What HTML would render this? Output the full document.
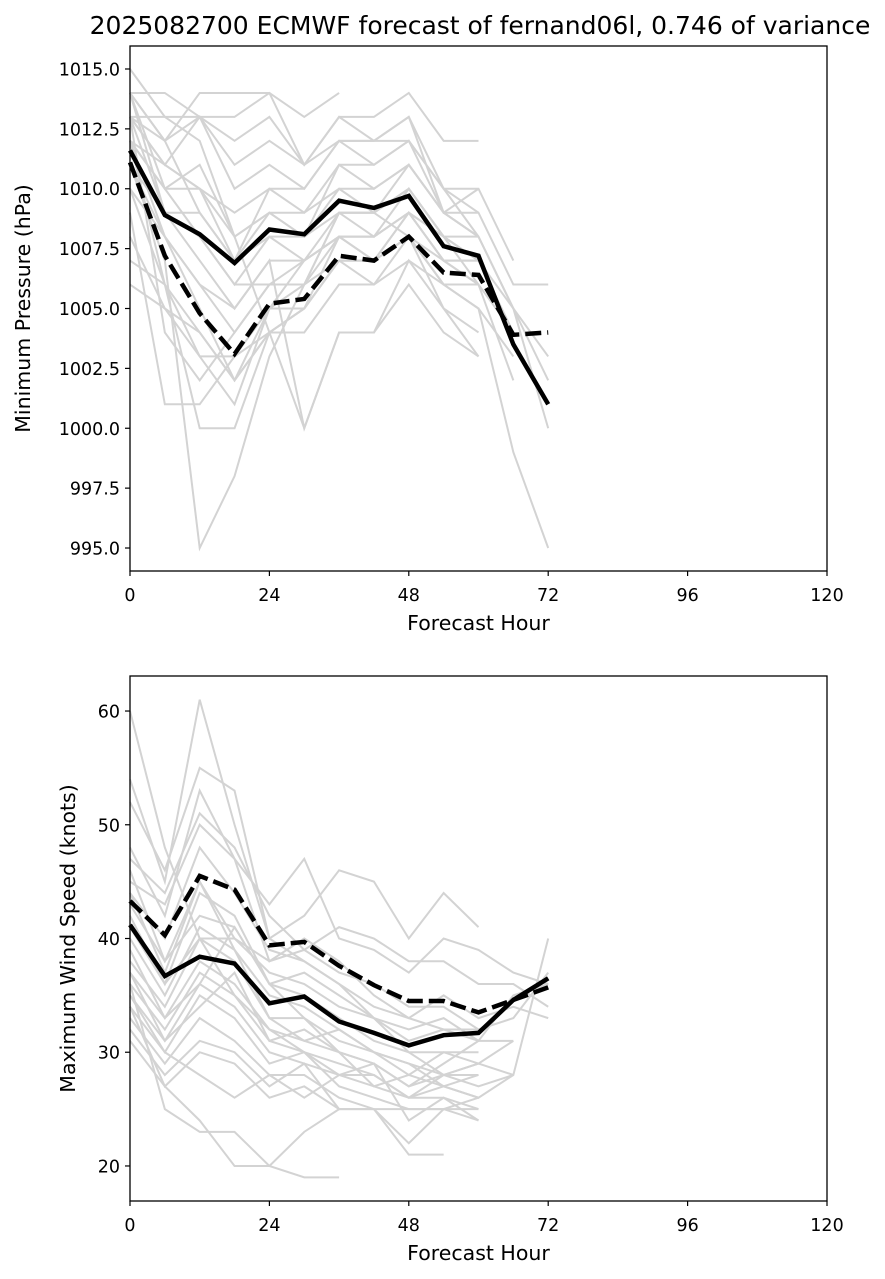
<!DOCTYPE html>
<html><head><meta charset="utf-8"><style>
body{margin:0;background:#fff}
svg{display:block;font-family:"DejaVu Sans","Liberation Sans",sans-serif}
</style></head><body>
<svg id="c" width="885" height="1279" viewBox="0 0 885 1279"></svg>
<script>
const hours=[0,6,12,18,24,30,36,42,48,54,60,66,72];
const xTicks=[0,24,48,72,96,120];
const pTicks=[995.0,997.5,1000.0,1002.5,1005.0,1007.5,1010.0,1012.5,1015.0];
const wTicks=[20,30,40,50,60];
const pMean=[1011.6,1008.9,1008.1,1006.9,1008.3,1008.1,1009.5,1009.2,1009.7,1007.6,1007.2,1003.5,1001.0];
const pMedian=[1011.1,1007.2,1004.8,1003.1,1005.2,1005.4,1007.2,1007.0,1008.0,1006.5,1006.4,1003.9,1004.0];
const wMean=[41.2,36.7,38.4,37.8,34.3,34.9,32.7,31.7,30.6,31.5,31.7,34.6,36.5];
const wMedian=[43.3,40.3,45.5,44.3,39.4,39.7,37.6,35.9,34.5,34.5,33.5,34.6,35.7];
const pMembers=[
[1015,1013,1012,1008,1004,1000,1004,1004,1006,1004,1003],
[1014,1014,1013,1013,1014,1013,1014],
[1014,1012,1014,1014,1014,1011,1013,1013,1014,1012,1012],
[1013,1013,1013,1012,1013,1011,1012,1012,1013,1009,1008,1005,1000],
[1013,1012,1013,1011,1012,1011,1013,1012,1012,1010,1010,1007],
[1012,1011,1010,1009,1010,1009,1010,1009,1011,1009,1009,1006,1006],
[1012,1010,1011,1008,1009,1008,1009,1008,1010,1008,1007,1005,1003],
[1011,1009,1009,1007,1008,1007,1008,1008,1009,1007,1007,1004],
[1013,1009,1008,1006,1008,1008,1010,1010,1011,1009,1008,1005,1002],
[1012,1008,1005,1002,1004,1005,1007,1007,1008,1006,1005,999,995],
[1011,1007,995,998,1003,1006,1007,1006,1007,1006,1005,1003],
[1010,1006,1003,1001,1005,1005,1008,1008,1009,1008,1006,1002],
[1012,1006,1000,1000,1004,1004,1006,1006,1008,1005,1004],
[1013,1004,1002,1004,1006,1006,1008,1007,1009,1007,1006],
[1011,1008,1006,1004,1006,1006,1009,1009,1010,1008,1007],
[1014,1009,1007,1005,1007,1000,1004,1004,1007,1005,1003],
[1009,1001,1001,1003,1004,1005,1007,1007,1008,1006,1006],
[1008,1005,1003,1003,1005,1006,1009,1009,1008,1007,1007],
[1007,1006,1004,1002,1005,1007,1008,1008,1009,1008,1008],
[1013,1011,1010,1007,1009,1009,1011,1011,1012,1009,1010],
[1014,1012,1009,1007,1010,1010,1012,1012,1013,1010,1009],
[1010,1008,1006,1005,1007,1007,1009,1009,1010,1008,1007],
[1006,1005,1004,1002,1004,1005,1007,1007,1008,1006,1006],
[1012,1010,1008,1006,1006,1007,1008,1007,1009,1007,1006,1004],
[1013,1011,1013,1010,1011,1010,1012,1011,1012,1010,1008],
[1014,1010,1010,1008,1009,1008,1011,1010,1011,1009,1008],
];
const wMembers=[
[60,48,40,35,32,30,28,28,26,26,25],
[54,45,61,50,40,38,36,33,30,28,27,28,40],
[52,46,55,53,40,42,46,45,40,44,41],
[48,42,53,47,43,47,40,39,37,40,39,37,36],
[47,44,51,48,42,39,41,40,38,38,36,36,34],
[45,43,50,47,38,40,38,35,33,35,33,34,33],
[44,40,48,44,39,38,36,34,33,32,32],
[43,38,45,40,37,36,34,33,31,32,31,35,36],
[42,36,44,42,36,35,33,31,30,30,29,28],
[40,35,41,39,35,34,32,30,29,28,28],
[38,34,40,38,33,33,31,30,28,30,30],
[37,33,38,36,32,31,30,29,27,29,31],
[36,32,37,35,31,30,29,28,26,28,29],
[35,31,36,34,30,29,28,27,26,27,28],
[34,30,35,33,29,30,27,26,25,25,26],
[33,29,33,31,28,28,26,25,22,25,24],
[32,28,31,30,27,29,25,25,21,21],
[34,27,30,29,26,27,25,25,25,25,25],
[36,25,23,23,20,19,19],
[31,27,24,20,20,23,25],
[35,30,28,26,28,26,28,29,24,26,24],
[46,38,42,41,36,37,35,33,32,33,31,31],
[41,36,40,40,38,39,37,36,34,34,32,33,37],
[39,33,36,41,36,33,30,29,27,28,29,31],
[44,37,45,39,33,31,32,30,29,27,26,28],
[37,31,34,37,31,32,30,27,28,27,26],
];
const svg=document.getElementById('c');
const NS='http://www.w3.org/2000/svg';
function mk(t,a){const e=document.createElementNS(NS,t);for(const k in a)e.setAttribute(k,a[k]);svg.appendChild(e);return e;}
const X0=130,X1=827;
const xs=h=>X0+(h/120)*(X1-X0);
function panel(top,bot,ymin,ymax,ticks,fmt,ylabel,members,mean,median,pfx){
  const ys=v=>bot-(v-ymin)/(ymax-ymin)*(bot-top);
  members.forEach((m,i)=>{
    const p=mk('polyline',{points:m.map((v,j)=>xs(hours[j])+','+ys(v)).join(' '),fill:'none',stroke:'#d3d3d3','stroke-width':2});
    
    
  });
  const a=mk('polyline',{points:mean.map((v,j)=>xs(hours[j])+','+ys(v)).join(' '),fill:'none',stroke:'#000','stroke-width':4.5});
  
  
  const b=mk('polyline',{points:median.map((v,j)=>xs(hours[j])+','+ys(v)).join(' '),fill:'none',stroke:'#000','stroke-width':4.5,'stroke-dasharray':'16 6'});
  
  
  const r=mk('rect',{x:X0,y:top,width:X1-X0,height:bot-top,fill:'none',stroke:'#000','stroke-width':1.3});
  
  
  ticks.forEach(t=>{
    const y=ys(t);
    mk('line',{x1:X0-5,x2:X0,y1:y,y2:y,stroke:'#000','stroke-width':1.2});
    const tx=mk('text',{x:X0-10,y:y+6.5,'text-anchor':'end','font-size':17.5});
    tx.textContent=fmt(t);
    
    
  });
  xTicks.forEach(t=>{
    const x=xs(t);
    mk('line',{x1:x,x2:x,y1:bot,y2:bot+5,stroke:'#000','stroke-width':1.2});
    const tx=mk('text',{x:x,y:bot+30,'text-anchor':'middle','font-size':17.5});
    tx.textContent=t;
    
    
  });
  const xl=mk('text',{x:(X0+X1)/2,y:bot+59,'text-anchor':'middle','font-size':20.5});
  xl.textContent='Forecast Hour';
  
  
  const cy=(top+bot)/2;
  const yl=mk('text',{x:0,y:0,'text-anchor':'middle','font-size':20.5,transform:`translate(${pfx==='pressure'?30:75},${cy}) rotate(-90)`});
  yl.textContent=ylabel;
  
  
}
const tt=mk('text',{x:480,y:34,'text-anchor':'middle','font-size':25});
tt.textContent='2025082700 ECMWF forecast of fernand06l, 0.746 of variance';


panel(46,571,994.04,1015.96,pTicks,v=>v.toFixed(1),'Minimum Pressure (hPa)',pMembers,pMean,pMedian,'pressure');
panel(676,1201,16.92,63.08,wTicks,v=>String(v),'Maximum Wind Speed (knots)',wMembers,wMean,wMedian,'wind');
</script>
</body></html>
